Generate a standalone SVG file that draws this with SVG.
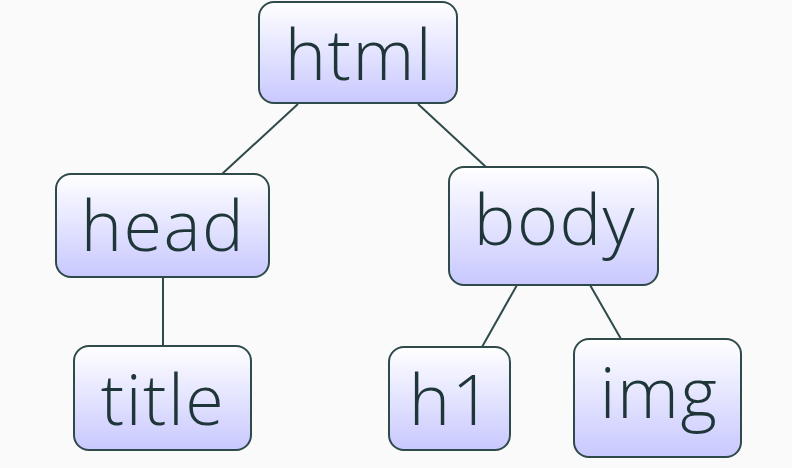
<svg xmlns="http://www.w3.org/2000/svg" width="792" height="468" viewBox="0 0 792 468">
<style>
.n{stroke:#2f4a4a;stroke-width:2;fill:url(#g)}
.t{font-family:"Open Sans","Noto Sans",sans-serif;font-size:70px;font-weight:300;fill:#1f3638;text-anchor:middle;letter-spacing:1.5px}
.c{stroke:#2f4a4a;stroke-width:2;fill:none}
</style>
<defs>
<linearGradient id="g" x1="0" y1="0" x2="0" y2="1">
<stop offset="0" stop-color="#ffffff"/>
<stop offset="1" stop-color="#c8c8ff"/>
</linearGradient>
</defs>
<rect width="792" height="468" fill="#fafafa"/>
<g id="connectors">
<line class="c" x1="298" y1="104" x2="222" y2="174"/>
<line class="c" x1="418" y1="104" x2="486" y2="167"/>
<line class="c" x1="163" y1="277" x2="163" y2="346"/>
<line class="c" x1="517" y1="285" x2="482" y2="347"/>
<line class="c" x1="590" y1="285" x2="621" y2="339"/>
</g>
<g id="html"><rect class="n" x="259" y="2" width="198" height="101" rx="15"/><text class="t" x="359" y="80">html</text></g>
<g id="head"><rect class="n" x="56" y="174" width="213" height="103" rx="15"/><text class="t" x="163" y="251">head</text></g>
<g id="body"><rect class="n" x="449" y="167" width="209" height="118" rx="15"/><text class="t" x="555" y="245">body</text></g>
<g id="title"><rect class="n" x="74" y="346" width="177" height="104" rx="15"/><text class="t" x="163" y="425">title</text></g>
<g id="h1"><rect class="n" x="389" y="347" width="121" height="103" rx="15"/><text class="t" x="451" y="425">h1</text></g>
<g id="img"><rect class="n" x="574" y="339" width="167" height="118" rx="15"/><text class="t" x="659" y="418">img</text></g>
</svg>
